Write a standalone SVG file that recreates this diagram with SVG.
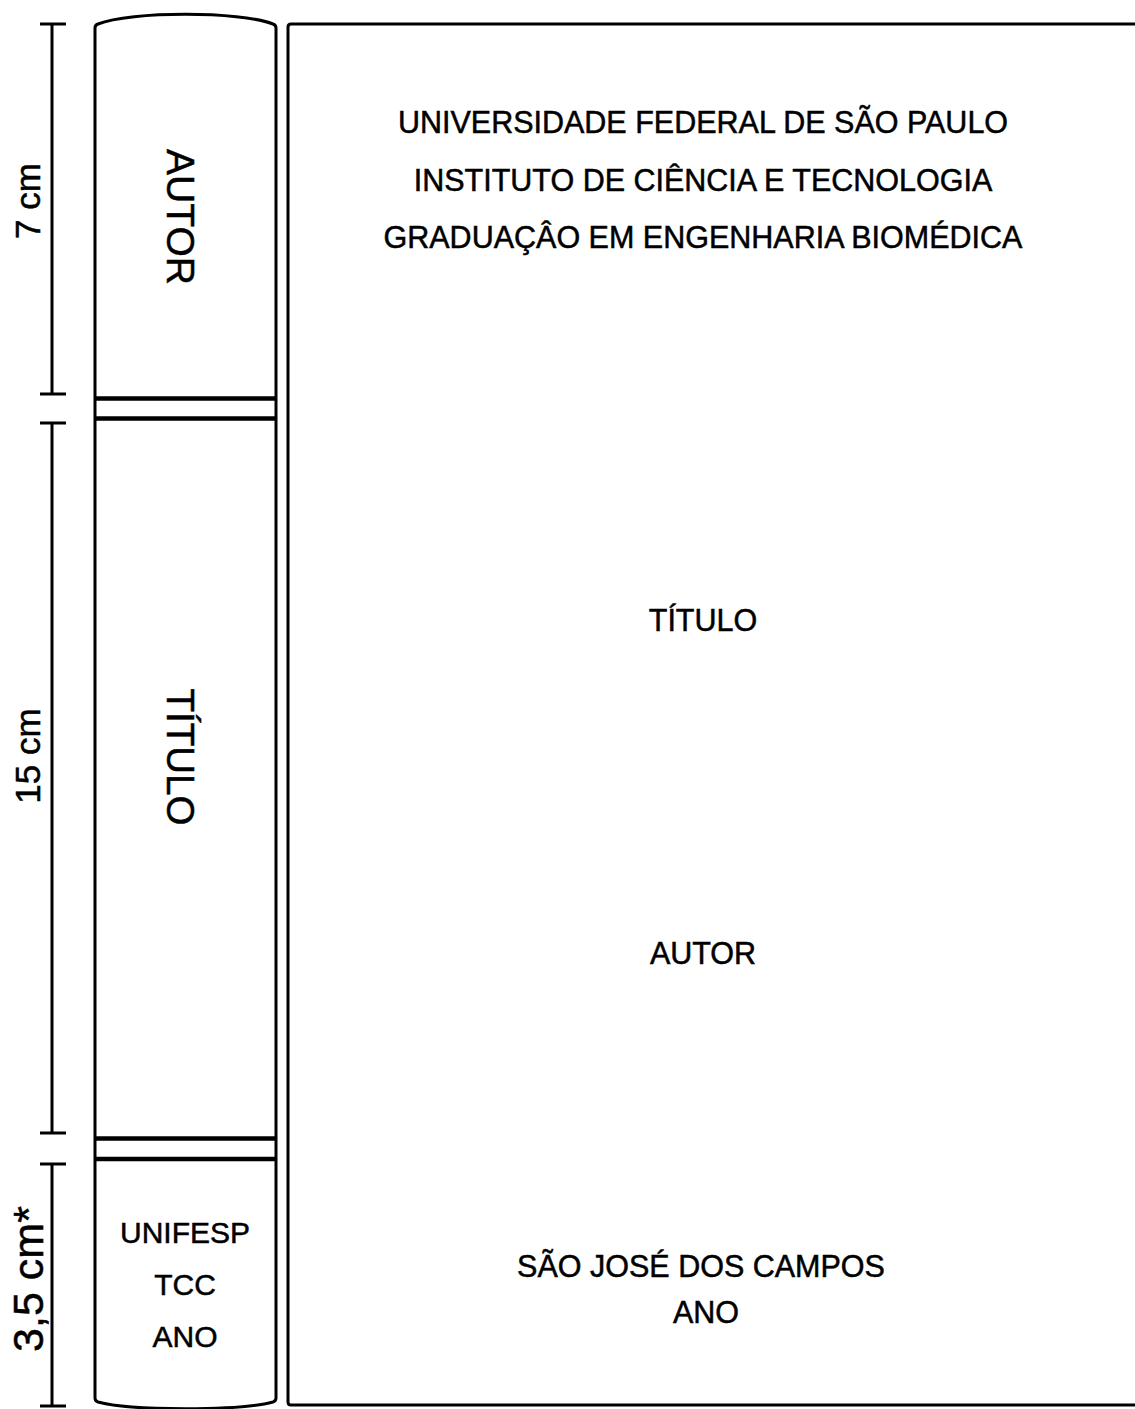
<svg xmlns="http://www.w3.org/2000/svg" width="1135" height="1409" viewBox="0 0 1135 1409">
<style>
.ln{fill:none;stroke:#000;stroke-width:3;stroke-linejoin:round}
.thick{stroke:#000;stroke-width:4.5}
.t{font-family:"Liberation Sans",Arial,sans-serif;fill:#000;text-anchor:middle;stroke:#000;stroke-width:0.5}
.c30{font-size:30.5px}
.c29{font-size:30px}
</style>
<rect width="1135" height="1409" fill="#fff"/>
<g id="dimensions">
  <g id="dim-7cm">
    <path class="ln" d="M52,24 V394 M40,24 H66 M40,394 H66"/>
    <text class="t" font-size="35" transform="translate(40,201) rotate(-90)">7 cm</text>
  </g>
  <g id="dim-15cm">
    <path class="ln" d="M52,423 V1133 M40,423 H66 M40,1133 H66"/>
    <text class="t" font-size="35" transform="translate(40,756) rotate(-90)">15 cm</text>
  </g>
  <g id="dim-3-5cm">
    <path class="ln" d="M52,1164 V1406 M40,1164 H66 M40,1406 H66"/>
    <text class="t" font-size="43" transform="translate(43,1279) rotate(-90)">3,5 cm*</text>
  </g>
</g>
<g id="spine">
  <path class="ln" d="M98,24 C130,11 240,11 273,24 Q276,25 276,28 V1398 Q276,1401 273,1402 C240,1411 130,1411 98,1402 Q95,1401 95,1398 V28 Q95,25 98,24 Z"/>
  <g id="spine-dividers">
    <line class="thick" x1="95" y1="398.5" x2="275" y2="398.5"/>
    <line class="thick" x1="95" y1="418.5" x2="275" y2="418.5"/>
    <line class="thick" x1="95" y1="1138.5" x2="275" y2="1138.5"/>
    <line class="thick" x1="95" y1="1159" x2="275" y2="1159"/>
  </g>
  <g id="spine-autor">
    <text class="t" font-size="39" transform="translate(167,217) rotate(90)">AUTOR</text>
  </g>
  <g id="spine-titulo">
    <text class="t" font-size="38.5" transform="translate(167,757) rotate(90)">TÍTULO</text>
  </g>
  <g id="spine-bottom">
    <text class="t c29" x="185" y="1243">UNIFESP</text>
    <text class="t c29" x="185" y="1295">TCC</text>
    <text class="t c29" x="185" y="1347">ANO</text>
  </g>
</g>
<g id="cover">
  <path class="ln" d="M1140,24 H291 Q288,24 288,27 V1402 Q288,1405 291,1405 H1140"/>
  <g id="cover-header">
    <text class="t c30" x="703" y="133">UNIVERSIDADE FEDERAL DE SÃO PAULO</text>
    <text class="t c30" x="703" y="191">INSTITUTO DE CIÊNCIA E TECNOLOGIA</text>
    <text class="t c30" x="703" y="248">GRADUAÇÂO EM ENGENHARIA BIOMÉDICA</text>
  </g>
  <g id="cover-titulo"><text class="t c30" x="703" y="631">TÍTULO</text></g>
  <g id="cover-autor"><text class="t c30" x="703" y="964">AUTOR</text></g>
  <g id="cover-footer">
    <text class="t c30" x="701" y="1277">SÃO JOSÉ DOS CAMPOS</text>
    <text class="t c30" x="706" y="1323">ANO</text>
  </g>
</g>
</svg>
